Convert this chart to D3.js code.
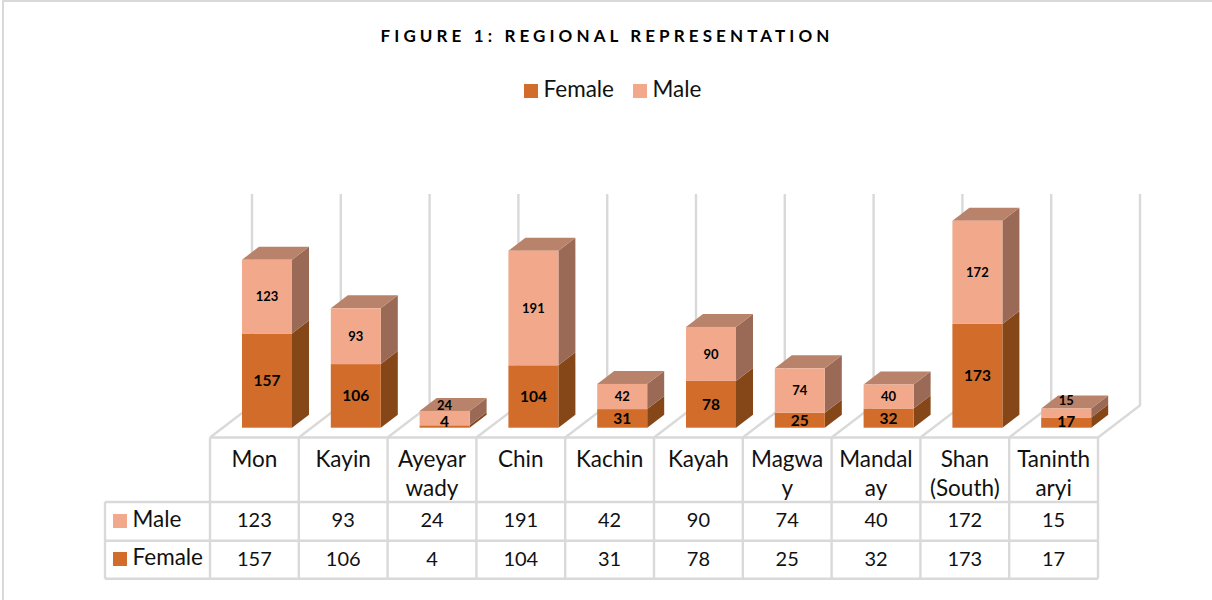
<!DOCTYPE html>
<html><head><meta charset="utf-8">
<script src="https://cdnjs.cloudflare.com/ajax/libs/d3/7.8.5/d3.min.js"></script>
<style>html,body{margin:0;padding:0;background:#fff}svg{display:block}text{font-family:Lato,"Open Sans",sans-serif;fill:#111}text.b{fill:#000}</style>
</head><body><svg id="c" width="1212" height="600"></svg>
<script>
const categories=["Mon","Kayin","Ayeyarwady","Chin","Kachin","Kayah","Magway","Mandalay","Shan (South)","Tanintharyi"];
const categoryLines=[["Mon"],["Kayin"],["Ayeyar","wady"],["Chin"],["Kachin"],["Kayah"],["Magwa","y"],["Mandal","ay"],["Shan","(South)"],["Taninth","aryi"]];
const female=[157,106,4,104,31,78,25,32,173,17];
const male=[123,93,24,191,42,90,74,40,172,15];
const seriesNames=["Female","Male"];
const titleText="FIGURE 1: REGIONAL REPRESENTATION";

const grid="#d9d9d9";
const colors={Female:{front:"#d26c2a",top:"#b8622a",side:"#854618"},Male:{front:"#f2a98b",top:"#b8836a",side:"#9a6a56"}};
const svg=d3.select("#c");
const left=210,right=1098,tableTop=437.5,catBottom=502,rowMid=540.7,tableBottom=578.7,tableLeft=105;
const baseY=427.7,dx=17,dy=13,wallDx=42,wallDy=32,wallTop=194,barW=50;
const wordSize=22.5,digitSize=20;

const x=d3.scaleBand().domain(categories).range([left,right]);
const y=d3.scaleLinear().domain([0,345]).range([baseY,baseY-207]);
const rows=categories.map((c,i)=>({cat:c,Female:female[i],Male:male[i]}));
const stacked=d3.stack().keys(seriesNames)(rows);

// frame
svg.append("path").attr("d","M3,600V1H1212").attr("fill","none").attr("stroke",grid).attr("stroke-width",2);

// title
svg.append("text").attr("class","b").attr("x",607).attr("y",42).attr("text-anchor","middle")
  .attr("font-size",17).attr("font-weight",700).attr("letter-spacing",4.1).text(titleText);

// top legend
const legendX={Female:524,Male:633};
seriesNames.forEach(s=>{
  svg.append("rect").attr("x",legendX[s]).attr("y",84).attr("width",14).attr("height",14).attr("fill",colors[s].front);
  svg.append("text").attr("x",legendX[s]+19.5).attr("y",97).attr("font-size",wordSize).text(s);
});

// walls and floor
const edges=categories.map(c=>x(c)).concat([right]);
const walls=svg.append("g").attr("fill","none").attr("stroke",grid).attr("stroke-width",2.4);
edges.forEach(e=>{
  walls.append("path").attr("d",`M${e},${tableTop}L${e+wallDx},${tableTop-wallDy}V${wallTop}`);
});

// bars
const barX=c=>x(c)+32;
const order=[...categories.keys()];
order.forEach(i=>{
  const c=categories[i],bx=barX(c);
  stacked.forEach((ser,si)=>{
    const s=ser.key,[v0,v1]=ser[i],yb=y(v0),yt=y(v1),col=colors[s];
    const g=svg.append("g");
    g.append("polygon").attr("fill",col.side)
      .attr("points",[[bx+barW,yb],[bx+barW+dx,yb-dy],[bx+barW+dx,yt-dy],[bx+barW,yt]].join(" "));
    if(si===stacked.length-1){
      g.append("polygon").attr("fill",col.top)
        .attr("points",[[bx,yt],[bx+dx,yt-dy],[bx+barW+dx,yt-dy],[bx+barW,yt]].join(" "));
    }
    g.append("rect").attr("x",bx).attr("y",yt).attr("width",barW).attr("height",yb-yt).attr("fill",col.front);
  });
});
// value labels
order.forEach(i=>{
  const c=categories[i],cx=barX(c)+barW/2;
  const fy=Math.min((y(0)+y(female[i]))/2,421);
  svg.append("text").attr("class","b").attr("x",cx).attr("y",fy).attr("dy","0.36em").attr("text-anchor","middle")
    .attr("font-size",15.5).attr("font-weight",700).text(female[i]);
  const top=y(female[i]+male[i]),bot=y(female[i]);
  const my=(top+bot)/2-((bot-top)<20?dy:0);
  svg.append("text").attr("class","b").attr("x",cx).attr("y",my).attr("dy","0.36em").attr("text-anchor","middle")
    .attr("font-size",13).attr("font-weight",700).text(male[i]);
});

// data table
const t=svg.append("g").attr("fill","none").attr("stroke",grid).attr("stroke-width",2.4);
t.append("path").attr("d",`M${left},${tableTop}H${right}`);
t.append("path").attr("d",`M${tableLeft},${catBottom}H${right}`);
t.append("path").attr("d",`M${tableLeft},${rowMid}H${right}`);
t.append("path").attr("d",`M${tableLeft},${tableBottom}H${right}`);
t.append("path").attr("d",`M${tableLeft},${catBottom}V${tableBottom}`);
edges.forEach(e=>t.append("path").attr("d",`M${e},${tableTop}V${tableBottom}`));

categories.forEach((c,i)=>{
  const cx=x(c)+x.bandwidth()/2;
  categoryLines[i].forEach((ln,k)=>{
    svg.append("text").attr("x",cx).attr("y",467+k*29).attr("text-anchor","middle").attr("font-size",wordSize).text(ln);
  });
  svg.append("text").attr("x",cx).attr("y",527).attr("text-anchor","middle").attr("font-size",digitSize).text(male[i]);
  svg.append("text").attr("x",cx).attr("y",565.5).attr("text-anchor","middle").attr("font-size",digitSize).text(female[i]);
});
[["Male",514,527],["Female",552,564.5]].forEach(([s,ry,ty])=>{
  svg.append("rect").attr("x",113).attr("y",ry).attr("width",14).attr("height",14).attr("fill",colors[s].front);
  svg.append("text").attr("x",132.5).attr("y",ty).attr("font-size",wordSize).text(s);
});
</script></body></html>
